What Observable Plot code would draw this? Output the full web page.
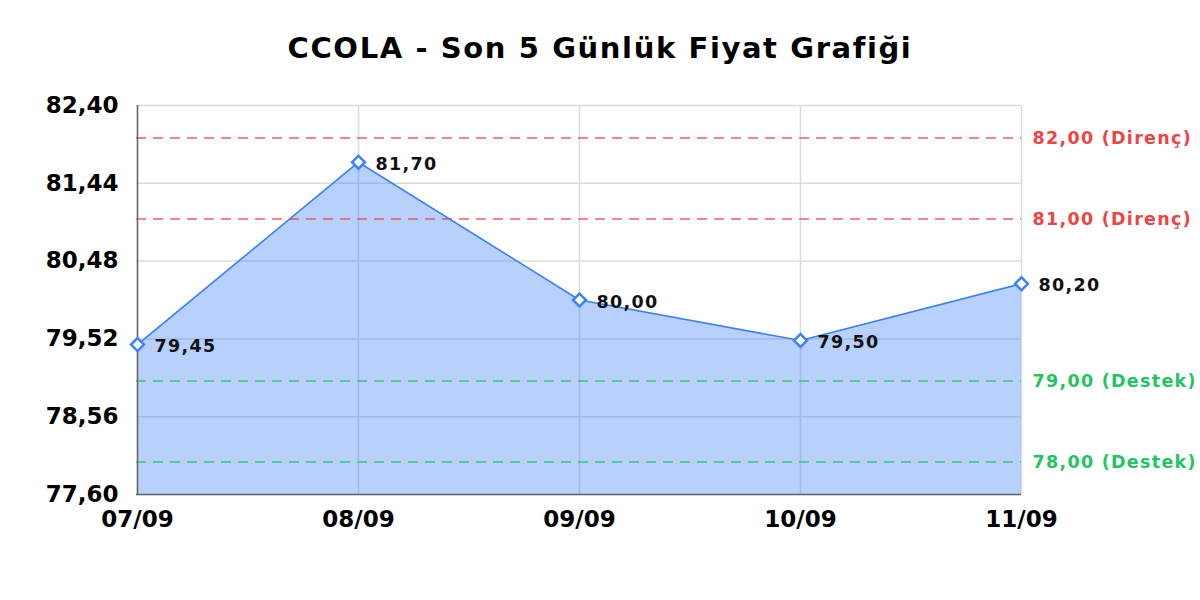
<!DOCTYPE html>
<html>
<head>
<meta charset="utf-8">
<script src="https://cdn.jsdelivr.net/npm/d3@7"></script>
<script src="https://cdn.jsdelivr.net/npm/@observablehq/plot@0.6"></script>
<style>
  html, body { margin: 0; padding: 0; background: #fff; }
  body { width: 1200px; height: 600px; overflow: hidden; font-family: "DejaVu Sans", sans-serif; }
  #title { box-sizing: border-box; height: 80px; padding-top: 28px; line-height: 40px; font-size: 29px; font-weight: bold; text-align: center; color: #000; letter-spacing: 1.6px; }
  #chart svg { display: block; }
  #chart svg g[aria-label="text"] text { letter-spacing: 1.3px; }
</style>
</head>
<body>
<div id="title"></div>
<div id="chart"></div>
<script>
const titleText = "CCOLA - Son 5 Günlük Fiyat Grafiği";
const dates = ["07/09", "08/09", "09/09", "10/09", "11/09"];
const prices = [79.45, 81.70, 80.00, 79.50, 80.20];
const yTicks = [77.60, 78.56, 79.52, 80.48, 81.44, 82.40];
const levelValues = [82.00, 81.00, 79.00, 78.00];
const levelKinds = ["Direnç", "Direnç", "Destek", "Destek"];

document.getElementById("title").textContent = titleText;

const fmt = d => d.toFixed(2).replace(".", ",");
const yMin = yTicks[0], yMax = yTicks[yTicks.length - 1];
const data = dates.map((d, i) => ({date: d, value: prices[i]}));
const levels = levelValues.map((v, i) => ({value: v, kind: levelKinds[i], label: `${fmt(v)} (${levelKinds[i]})`}));
const levelColor = k => k === "Direnç" ? "#ef4444" : "#22c55e";
const lastDate = dates[dates.length - 1];

const chart = Plot.plot({
  width: 1200,
  height: 520,
  marginTop: 25,
  marginBottom: 106,
  marginLeft: 136,
  marginRight: 179,
  style: {fontFamily: "DejaVu Sans", background: "white", color: "#000"},
  x: {type: "point", domain: dates, padding: 0},
  y: {domain: [yMin, yMax]},
  marks: [
    Plot.gridY(yTicks, {stroke: "#dcdcdc", strokeOpacity: 1, strokeWidth: 1.5}),
    Plot.gridX(dates, {stroke: "#dcdcdc", strokeOpacity: 1, strokeWidth: 1.5}),
    Plot.areaY(data, {x: "date", y1: () => yMin, y2: "value", fill: "#3b82f6", fillOpacity: 0.37}),
    Plot.ruleY(levels, {y: "value", stroke: d => levelColor(d.kind), strokeOpacity: 0.85, strokeWidth: 1.5, strokeDasharray: "10,7"}),
    Plot.text(levels, {x: () => lastDate, y: "value", text: "label", fill: d => levelColor(d.kind), dx: 11, textAnchor: "start", fontSize: 17.5, fontWeight: "bold"}),
    Plot.line(data, {x: "date", y: "value", stroke: "#3b82f6", strokeWidth: 1.6}),
    Plot.ruleX([dates[0]], {stroke: "#666", strokeWidth: 1.5}),
    Plot.ruleY([yMin], {stroke: "#666", strokeWidth: 1.5}),
    Plot.dot(data, {x: "date", y: "value", symbol: "diamond2", r: 5.8, fill: "white", stroke: "#3b82f6", strokeWidth: 2.5}),
    Plot.text(data, {x: "date", y: "value", text: d => fmt(d.value), dx: 17, dy: 2, textAnchor: "start", fontSize: 17.5, fontWeight: "bold", fill: "#111"}),
    Plot.axisY({ticks: yTicks, tickFormat: fmt, tickSize: 0, tickPadding: 18, fontSize: 23, fontWeight: "bold", label: null}),
    Plot.axisX({tickSize: 0, tickPadding: 16, fontSize: 23, fontWeight: "bold", label: null})
  ]
});
document.getElementById("chart").appendChild(chart);
</script>
</body>
</html>
